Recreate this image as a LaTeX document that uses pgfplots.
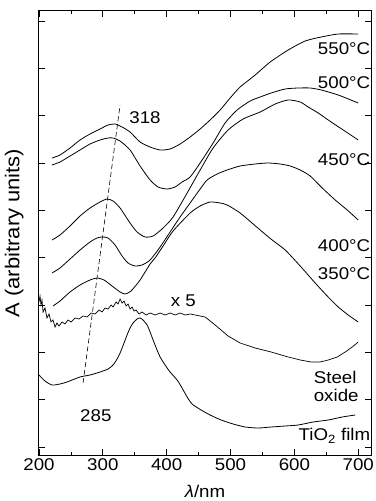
\documentclass[border=0pt]{standalone}
\usepackage{fontspec}
\setmainfont{Liberation Sans}[FakeStretch=1.1]
\usepackage{pgfplots}
\pgfplotsset{compat=1.18}
\usepackage{pgfplotstable}

\pgfplotstableread{
x y
220.4 297
232.9 300
248.6 307
264.3 315
279.9 321
295.6 326
308.2 330
319.1 331
330.1 328
342.6 323
358.3 313
374.0 308
389.7 305
405.3 306
421.0 311
436.7 318
452.4 326
468.0 335
483.7 345
499.4 357
515.0 368
538.6 380
562.1 393
590.3 405
616.9 414
642.0 418
668.7 421
700.0 421
}\tFiveFifty

\pgfplotstableread{
x y
220.4 290
232.9 293
248.6 299
264.3 305
279.9 311
295.6 315
308.2 317
316.0 317
327.0 314
342.6 305
358.3 289
374.0 275
386.5 268
400.6 266
413.2 268
424.1 273
436.7 278
452.4 292
472.7 312
491.5 332
510.3 345
530.7 354
546.4 358
563.6 362
585.6 366
606.0 367
624.8 367
642.0 365
668.7 360
700.0 352
}\tFiveHundred

\pgfplotstableread{
x y
220.4 215
232.9 220
248.6 229
264.3 239
279.9 247
295.6 253
306.6 256
316.0 254
327.0 247
342.6 232
353.6 223
366.1 218
378.7 219
394.4 227
410.0 238
432.0 262
452.4 285
472.7 307
496.2 325
519.7 336
546.4 343
569.9 351
590.3 355
609.1 353
621.6 348
637.3 342
653.0 335
676.5 325
700.0 315
}\tFourFifty

\pgfplotstableread{
x y
220.4 182
232.9 187
248.6 196
264.3 205
279.9 213
290.9 217
298.7 218
308.2 217
319.1 210
330.1 199
339.5 192
350.5 189
361.4 190
374.0 195
389.7 208
405.3 223
421.0 238
436.7 252
452.4 266
463.3 275
479.0 281
494.7 285
515.0 289
538.6 291
558.9 292
577.7 291
593.4 289
609.1 285
624.8 279
642.0 268
663.9 255
682.7 245
700.0 235
}\tFourHundred

\pgfplotstableread{
x y
221.9 149
232.9 154
248.6 163
264.3 170
279.9 175
290.9 177
301.9 175
314.4 169
327.0 163
334.8 161
344.2 164
358.3 175
374.0 191
381.8 197
394.4 209
410.0 224
436.7 242
452.4 249
468.0 253
483.7 252
494.7 250
515.0 242
546.4 225
565.2 215
585.6 205
609.1 189
632.6 172
651.4 159
668.7 148
684.3 140
700.0 133
}\tThreeFifty

\pgfplotstableread{
x y
200.0 153
201.6 159
203.1 150
204.7 155
206.3 143
209.4 147
212.5 137
215.7 141
218.8 133
221.9 135
225.1 128
228.2 132
231.3 129
236.1 133
240.8 131
245.5 135
250.2 133
256.4 137
262.7 136
269.0 139
275.2 138
281.5 142
287.8 141
294.0 145
298.7 143
303.4 147
308.2 146
312.9 150
316.0 148
320.7 153
323.8 151
327.0 156
330.1 152
333.2 154
336.4 149
339.5 151
342.6 146
345.8 148
348.9 144
352.0 145
356.7 141
361.4 143
367.7 140
374.0 142
381.8 140
389.7 142
397.5 140
405.3 142
413.2 140
421.0 142
428.8 140
436.7 141
444.5 140
452.4 139
460.2 138
475.9 130
496.2 119
515.0 112
538.6 107
563.6 103
590.3 98
609.1 95
626.3 93
640.4 93
653.0 95
667.1 98
679.6 103
690.6 108
700.0 113
}\tSteel

\pgfplotstableread{
x y
200.0 80
209.4 74
220.4 70
232.9 71
243.9 73
264.3 78
279.9 80
295.6 83
308.2 86
316.0 90
322.3 96
327.0 102
333.2 112
337.9 120
342.6 127
347.3 132
353.6 136
358.3 137
363.0 135
369.3 130
374.0 123
378.7 115
384.9 105
389.7 98
397.5 90
405.3 83
416.3 75
424.1 67
432.0 58
439.8 51
453.9 45
468.0 40
485.3 35
504.1 31
522.9 28
543.3 27
563.6 28
585.6 29
606.0 30
629.5 33
653.0 35
674.9 38
695.3 40
}\tTiO

\newcommand{\lblfont}{\fontsize{17}{19.5}\selectfont}

\begin{document}
\begin{tikzpicture}
\begin{axis}[
  scale only axis, width=332pt, height=444pt,
  xmin=200, xmax=720, ymin=0, ymax=444,
  xtick={200,300,400,500,600,700}, minor x tick num=1,
  ytick={8,55.33,102.67,150,197.33,244.67,292,339.33,386.67,434},
  yticklabels={},
  xtick pos=both, ytick pos=both,
  tick align=inside,
  major tick length=6pt, minor tick length=3.5pt,
  axis line style={line width=1pt},
  every tick/.style={black, line width=0.8pt},
  /pgf/number format/assume math mode=true,
  /pgf/number format/1000 sep={},
  tick label style={font=\lblfont},
  xlabel style={font=\lblfont},
  ylabel style={font=\fontsize{20}{23}\selectfont},
  xlabel={\textit{λ}/nm},
  ylabel={A (arbitrary units)},
  xlabel style={at={(axis description cs:0.5,0)}, anchor=center, yshift=-36pt},
  ylabel style={at={(axis description cs:-0.075,0.5)}, anchor=center},
  clip=false,
  every axis plot/.append style={black, line width=0.8pt},
]
\addplot[smooth, tension=0.4] table {\tFiveFifty};
\addplot[smooth, tension=0.4] table {\tFiveHundred};
\addplot[smooth, tension=0.4] table {\tFourFifty};
\addplot[smooth, tension=0.4] table {\tFourHundred};
\addplot[smooth, tension=0.4] table {\tThreeFifty};
\addplot[line width=0.7pt] table {\tSteel};
\addplot[smooth, tension=0.4] table {\tTiO};
\addplot[line width=0.6pt, dash pattern=on 5pt off 3pt] coordinates {(269,72) (327,350)};

\node[font=\lblfont] at (axis cs:366,337) {318};
\node[font=\lblfont] at (axis cs:426,154) {x 5};
\node[font=\lblfont] at (axis cs:289,39) {285};
\node[font=\lblfont, anchor=east, inner sep=0pt] at (axis cs:719,406) {550°C};
\node[font=\lblfont, anchor=east, inner sep=0pt] at (axis cs:719,372) {500°C};
\node[font=\lblfont, anchor=east, inner sep=0pt] at (axis cs:719,295) {450°C};
\node[font=\lblfont, anchor=east, inner sep=0pt] at (axis cs:719,209) {400°C};
\node[font=\lblfont, anchor=east, inner sep=0pt] at (axis cs:719,181) {350°C};
\node[font=\lblfont, align=left, inner sep=0pt] at (axis cs:665.5,68.5) {Steel\\[-2pt]oxide};
\node[font=\lblfont, anchor=east, inner sep=0pt] at (axis cs:719,19) {TiO\textsubscript{2} film};
\end{axis}
\pgfresetboundingbox
\path[use as bounding box] ([shift={(-39pt,-46pt)}]current axis.south west) rectangle ([shift={(5pt,11pt)}]current axis.north east);
\end{tikzpicture}
\end{document}
